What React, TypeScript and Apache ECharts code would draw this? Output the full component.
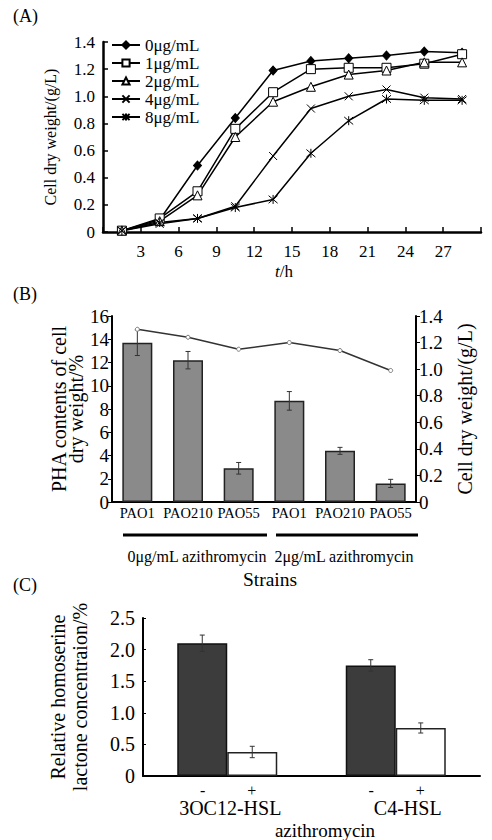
import React, { useEffect, useRef } from "react";
import * as echarts from "echarts";

const FONT = "'Liberation Serif', 'Times New Roman', serif";

// ---------- Panel A data ----------
const HOURS = [1.5, 4.5, 7.5, 10.5, 13.5, 16.5, 19.5, 22.5, 25.5, 28.5];
const A_NAMES = ["0μg/mL", "1μg/mL", "2μg/mL", "4μg/mL", "8μg/mL"];
const CDW_0 = [0.01, 0.09, 0.49, 0.84, 1.19, 1.26, 1.28, 1.3, 1.33, 1.32];
const CDW_1 = [0.01, 0.1, 0.3, 0.76, 1.03, 1.2, 1.21, 1.21, 1.24, 1.31];
const CDW_2 = [0.01, 0.08, 0.27, 0.7, 0.96, 1.07, 1.16, 1.19, 1.25, 1.25];
const CDW_4 = [0.01, 0.06, 0.1, 0.19, 0.56, 0.91, 1.0, 1.05, 0.99, 0.98];
const CDW_8 = [0.01, 0.07, 0.1, 0.18, 0.24, 0.58, 0.82, 0.98, 0.97, 0.97];
const A_X_TICKS = [3, 6, 9, 12, 15, 18, 21, 24, 27];

// ---------- Panel B data ----------
const STRAINS = ["PAO1", "PAO210", "PAO55", "PAO1", "PAO210", "PAO55"];
const PHA = [13.7, 12.2, 2.9, 8.7, 4.4, 1.6];
const PHA_ERR = [1.1, 0.75, 0.5, 0.8, 0.3, 0.35];
const B_CDW = [1.3, 1.24, 1.15, 1.2, 1.14, 0.99];
const GROUPS = ["0μg/mL azithromycin", "2μg/mL azithromycin"];

// ---------- Panel C data ----------
const HSL = ["3OC12-HSL", "C4-HSL"];
const HSL_MINUS = [2.1, 1.75];
const HSL_MINUS_ERR = [0.13, 0.09];
const HSL_PLUS = [0.38, 0.76];
const HSL_PLUS_ERR = [0.09, 0.08];

const C_BAR_W = 50;

function errRender(offset: number) {
  return (params: any, api: any) => {
    const i = api.value(0);
    const side = api.value(3) || 0;
    const pLo = api.coord([i, api.value(1)]);
    const pHi = api.coord([i, api.value(2)]);
    const x = pLo[0] + side * offset;
    const style = { stroke: "#333", lineWidth: 1 };
    return {
      type: "group",
      children: [
        { type: "line", shape: { x1: x, y1: pLo[1], x2: x, y2: pHi[1] }, style },
        { type: "line", shape: { x1: x - 2.5, y1: pLo[1], x2: x + 2.5, y2: pLo[1] }, style },
        { type: "line", shape: { x1: x - 2.5, y1: pHi[1], x2: x + 2.5, y2: pHi[1] }, style },
      ],
    };
  };
}

export default function App() {
  const ref = useRef<HTMLDivElement>(null);
  useEffect(() => {
    if (!ref.current) return;
    const chart = echarts.init(ref.current, null, { renderer: "svg" });
    const axisBlack = { lineStyle: { color: "#000", width: 2 } };
    const fmt1 = (v: number) => (v === 0 ? "0" : v.toFixed(1));
    const pair = (arr: number[]) => HOURS.map((h, i) => [h, arr[i]]);
    const lineBase = {
      type: "line",
      xAxisIndex: 0,
      yAxisIndex: 0,
      lineStyle: { color: "#000", width: 1.5 },
      itemStyle: { color: "#000", borderColor: "#000", borderWidth: 1 },
    };
    const bKeys = STRAINS.map((s, i) => `${i}:${s}`);

    const option: any = {
      animation: false,
      backgroundColor: "#fff",
      textStyle: { fontFamily: FONT, color: "#000" },
      grid: [
        { left: 103, top: 42, width: 378, height: 190 },
        { left: 112, top: 316, width: 304, height: 186 },
        { left: 143, top: 618, width: 337, height: 158 },
      ],
      legend: {
        data: A_NAMES,
        orient: "vertical",
        left: 111,
        top: 36,
        itemWidth: 28,
        itemHeight: 9,
        itemGap: 0,
        padding: 0,
        textStyle: { fontFamily: FONT, fontSize: 17, color: "#000", lineHeight: 18 },
      },
      xAxis: [
        {
          gridIndex: 0,
          type: "value",
          min: 0,
          max: 30,
          interval: 3,
          axisLine: { lineStyle: { color: "#000", width: 2.5 } },
          axisTick: { inside: true, length: 5, lineStyle: { color: "#000", width: 1.5 } },
          splitLine: { show: false },
          axisLabel: {
            fontFamily: FONT,
            fontSize: 17,
            color: "#000",
            margin: 11,
            formatter: (v: number) => (A_X_TICKS.includes(v) ? String(v) : ""),
          },
        },
        {
          gridIndex: 1,
          type: "category",
          data: bKeys,
          axisLine: axisBlack,
          axisTick: { inside: true, length: 3, lineStyle: { color: "#000" } },
          axisLabel: {
            interval: 0,
            fontFamily: FONT,
            fontSize: 14.5,
            color: "#000",
            margin: 3,
            formatter: (v: string) => v.split(":")[1],
          },
        },
        {
          gridIndex: 2,
          type: "category",
          data: HSL,
          axisLine: axisBlack,
          axisTick: { inside: true, length: 3, lineStyle: { color: "#000" } },
          axisLabel: {
            interval: 0,
            margin: 7,
            color: "#000",
            formatter: (v: string, i: number) => `{m|-}{p|+}\n{n${i}|${v}}`,
            rich: {
              m: { width: 49, align: "center", fontSize: 16, lineHeight: 14, fontFamily: FONT },
              p: { width: 49, align: "center", fontSize: 16, lineHeight: 14, fontFamily: FONT },
              n0: { fontSize: 20, lineHeight: 22, fontFamily: FONT, padding: [0, 0, 0, 6] },
              n1: { fontSize: 20, lineHeight: 22, fontFamily: FONT, padding: [0, 0, 0, 24] },
            },
          },
        },
      ],
      yAxis: [
        {
          gridIndex: 0,
          type: "value",
          min: 0,
          max: 1.4,
          interval: 0.2,
          name: "Cell dry weight/(g/L)",
          nameLocation: "middle",
          nameGap: 45,
          nameMoveOverlap: false,
          nameTextStyle: { fontFamily: FONT, fontSize: 16, color: "#000" },
          axisLine: { show: true, lineStyle: { color: "#000", width: 2.5 } },
          axisTick: { show: true, inside: true, length: 5, lineStyle: { color: "#000", width: 1.5 } },
          splitLine: { show: false },
          axisLabel: { fontFamily: FONT, fontSize: 17, color: "#000", margin: 8, formatter: fmt1 },
        },
        {
          gridIndex: 1,
          type: "value",
          min: 0,
          max: 16,
          interval: 2,
          name: "PHA contents of cell\ndry weight/%",
          nameLocation: "middle",
          nameGap: 28,
          nameMoveOverlap: false,
          nameTextStyle: { fontFamily: FONT, fontSize: 20, color: "#000", lineHeight: 17 },
          axisLine: { show: true, ...axisBlack },
          axisTick: { show: true, length: 4, lineStyle: { color: "#000" } },
          splitLine: { show: false },
          axisLabel: { fontFamily: FONT, fontSize: 19, color: "#000", margin: 3 },
        },
        {
          gridIndex: 1,
          type: "value",
          position: "right",
          min: 0,
          max: 1.4,
          interval: 0.2,
          name: "Cell dry weight/(g/L)",
          nameLocation: "middle",
          nameRotate: 90,
          nameGap: 39,
          nameMoveOverlap: false,
          nameTextStyle: { fontFamily: FONT, fontSize: 20, color: "#000" },
          axisLine: { show: true, ...axisBlack },
          axisTick: { show: true, length: 4, lineStyle: { color: "#000" } },
          splitLine: { show: false },
          axisLabel: { fontFamily: FONT, fontSize: 19, color: "#000", margin: 3, formatter: fmt1 },
        },
        {
          gridIndex: 2,
          type: "value",
          min: 0,
          max: 2.5,
          interval: 0.5,
          name: "Relative homoserine\nlactone concentraion/%",
          nameLocation: "middle",
          nameGap: 52,
          nameMoveOverlap: false,
          nameTextStyle: { fontFamily: FONT, fontSize: 20, color: "#000", lineHeight: 22 },
          axisLine: { show: true, ...axisBlack },
          axisTick: { show: true, inside: true, length: 3, lineStyle: { color: "#000" } },
          splitLine: { show: false },
          axisLabel: { fontFamily: FONT, fontSize: 20, color: "#000", margin: 8, formatter: fmt1 },
        },
      ],
      series: [
        { ...lineBase, name: A_NAMES[0], data: pair(CDW_0), symbol: "diamond", symbolSize: [8, 9] },
        {
          ...lineBase,
          name: A_NAMES[1],
          data: pair(CDW_1),
          symbol: "rect",
          symbolSize: 9,
          itemStyle: { color: "#fff", borderColor: "#000", borderWidth: 1 },
        },
        {
          ...lineBase,
          name: A_NAMES[2],
          data: pair(CDW_2),
          symbol: "triangle",
          symbolSize: 9,
          itemStyle: { color: "#fff", borderColor: "#000", borderWidth: 1 },
        },
        {
          ...lineBase,
          name: A_NAMES[3],
          data: pair(CDW_4),
          symbol: "path://M0,0L10,10M10,0L0,10",
          symbolSize: 8,
          itemStyle: { color: "none", borderColor: "#000", borderWidth: 1 },
        },
        {
          ...lineBase,
          name: A_NAMES[4],
          data: pair(CDW_8),
          symbol: "path://M0,0L10,10M10,0L0,10M5,-1L5,11",
          symbolSize: 9,
          itemStyle: { color: "none", borderColor: "#000", borderWidth: 1 },
        },
        // Panel B
        {
          type: "bar",
          name: "PHA",
          xAxisIndex: 1,
          yAxisIndex: 1,
          data: PHA,
          barWidth: 30,
          itemStyle: { color: "#8a8a8a", borderColor: "#222", borderWidth: 1.5 },
        },
        {
          type: "custom",
          name: "PHA err",
          xAxisIndex: 1,
          yAxisIndex: 1,
          z: 5,
          data: PHA.map((v, i) => [i, v - PHA_ERR[i], v + PHA_ERR[i], 0]),
          encode: { x: 0, y: [1, 2] },
          renderItem: errRender(0),
        },
        {
          type: "line",
          name: "CDW",
          xAxisIndex: 1,
          yAxisIndex: 2,
          data: B_CDW,
          symbol: "circle",
          symbolSize: 4,
          z: 6,
          lineStyle: { color: "#333", width: 1.5 },
          itemStyle: { color: "#fff", borderColor: "#777", borderWidth: 1 },
        },
        // Panel C
        {
          type: "bar",
          name: "-",
          xAxisIndex: 2,
          yAxisIndex: 3,
          data: HSL_MINUS,
          barWidth: C_BAR_W,
          barGap: "0%",
          itemStyle: { color: "#3c3c3c", borderColor: "#111", borderWidth: 1.5 },
        },
        {
          type: "bar",
          name: "+",
          xAxisIndex: 2,
          yAxisIndex: 3,
          data: HSL_PLUS,
          barWidth: C_BAR_W,
          barGap: "0%",
          itemStyle: { color: "#fff", borderColor: "#222", borderWidth: 1.5 },
        },
        {
          type: "custom",
          name: "HSL err",
          xAxisIndex: 2,
          yAxisIndex: 3,
          z: 5,
          data: [
            ...HSL_MINUS.map((v, i) => [i, v - HSL_MINUS_ERR[i], v + HSL_MINUS_ERR[i], -1]),
            ...HSL_PLUS.map((v, i) => [i, v - HSL_PLUS_ERR[i], v + HSL_PLUS_ERR[i], 1]),
          ],
          encode: { x: 0, y: [1, 2] },
          renderItem: errRender(C_BAR_W / 2),
        },
      ],
      graphic: [
        { type: "text", left: 13, top: 7, style: { text: "(A)", fontFamily: FONT, fontSize: 18, fill: "#000" } },
        { type: "text", left: 13, top: 285, style: { text: "(B)", fontFamily: FONT, fontSize: 18, fill: "#000" } },
        { type: "text", left: 13, top: 576, style: { text: "(C)", fontFamily: FONT, fontSize: 18, fill: "#000" } },
        {
          type: "text",
          x: 284,
          y: 271,
          style: {
            text: "{i|t}/h",
            fontFamily: FONT,
            fontSize: 17,
            fill: "#000",
            align: "center",
            verticalAlign: "middle",
            rich: { i: { fontStyle: "italic", fontFamily: FONT, fontSize: 17 } },
          },
        },
        { type: "line", shape: { x1: 123, y1: 535, x2: 267, y2: 535 }, style: { stroke: "#000", lineWidth: 3 } },
        { type: "line", shape: { x1: 276, y1: 535, x2: 418, y2: 535 }, style: { stroke: "#000", lineWidth: 3 } },
        {
          type: "text",
          x: 197,
          y: 556,
          style: { text: GROUPS[0], fontFamily: FONT, fontSize: 16, fill: "#000", align: "center", verticalAlign: "middle" },
        },
        {
          type: "text",
          x: 344,
          y: 556,
          style: { text: GROUPS[1], fontFamily: FONT, fontSize: 16, fill: "#000", align: "center", verticalAlign: "middle" },
        },
        {
          type: "text",
          x: 270,
          y: 579,
          style: { text: "Strains", fontFamily: FONT, fontSize: 19.5, fill: "#000", align: "center", verticalAlign: "middle" },
        },
        {
          type: "text",
          x: 325,
          y: 830,
          style: { text: "azithromycin", fontFamily: FONT, fontSize: 19, fill: "#000", align: "center", verticalAlign: "middle" },
        },
      ],
    };
    chart.setOption(option);
    return () => chart.dispose();
  }, []);
  return (
    <div
      ref={ref}
      style={{ position: "absolute", left: 0, top: 0, width: 492, height: 840, background: "#fff" }}
    />
  );
}
